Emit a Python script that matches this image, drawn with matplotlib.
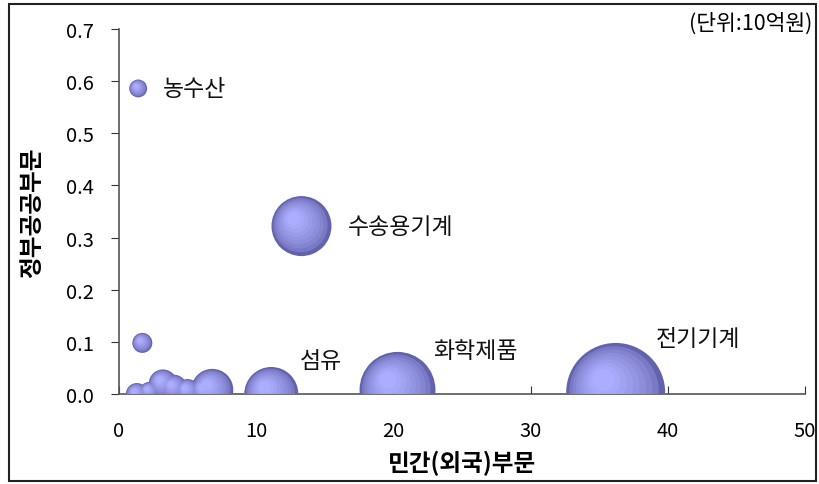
import numpy as np
import matplotlib
matplotlib.use("Agg")
import matplotlib.pyplot as plt
from matplotlib.transforms import ScaledTranslation
from matplotlib.patches import Rectangle

plt.rcParams['font.family'] = ['Noto Sans CJK KR', 'DejaVu Sans']

# Data: private (foreign) sector x, government/public sector y, bubble value
x_private = [1.4, 1.7, 13.3, 11.1, 20.3, 36.2, 1.3, 2.2, 3.2, 4.0, 5.0, 6.3, 6.8]
y_public = [0.586, 0.098, 0.322, 0.0, 0.008, 0.003, 0.0, 0.005, 0.02, 0.012, 0.006, 0.006, 0.008]
bubble_value = [0.8, 1.0, 9.0, 7.3, 14.4, 24.5, 1.2, 0.9, 2.0, 1.7, 1.4, 2.2, 4.4]

labels = ['농수산', '수송용기계', '섬유', '화학제품', '전기기계']
label_x = [3.2, 16.7, 13.2, 22.9, 39.1]
label_y = [0.586, 0.322, 0.064, 0.083, 0.106]

W, H = 819, 485
fig = plt.figure(figsize=(W / 100, H / 100), dpi=100)
ax = fig.add_axes([119 / W, (H - 395) / H, (805 - 119) / W, (395 - 30) / H])
ax.set_xlim(0, 50)
ax.set_ylim(0, 0.7)

dark = np.array([0.39, 0.39, 0.68])
light = np.array([0.68, 0.68, 1.0])
n_layers = 9
for xv, yv, v in zip(x_private, y_public, bubble_value):
    r_px = 10 * np.sqrt(v)
    for k in range(n_layers):
        t = k / (n_layers - 1)
        f = 1 - 0.78 * t
        col = dark + (light - dark) * (t ** 0.6)
        diam_pt = 2 * r_px * f * 0.72
        off = (1 - f) * r_px * 0.32 / 100  # inches
        tr = ax.transData + ScaledTranslation(-off, off, fig.dpi_scale_trans)
        ax.scatter([xv], [yv], s=diam_pt ** 2, color=col, edgecolors='none',
                   transform=tr, zorder=3 + k * 0.01)

for lab, lx, ly in zip(labels, label_x, label_y):
    ax.text(lx, ly, lab, fontsize=16.5, va='center', ha='left', color='#111111')

for s in ['top', 'right']:
    ax.spines[s].set_visible(False)
for s in ['left', 'bottom']:
    ax.spines[s].set_color('#555555')
    ax.spines[s].set_linewidth(1.2)

ax.set_xticks([0, 10, 20, 30, 40, 50])
ax.set_yticks(np.arange(0, 0.71, 0.1))
ax.set_yticklabels(['0.0', '0.1', '0.2', '0.3', '0.4', '0.5', '0.6', '0.7'])
ax.tick_params(axis='y', direction='out', length=6, labelsize=14.5, pad=12, color='#333333')
ax.tick_params(axis='x', direction='in', length=6, labelsize=14.5, pad=19, color='#333333')

ax.set_xlabel('민간(외국)부문', fontsize=17, fontweight='bold', labelpad=6)
ax.set_ylabel('정부공공부문', fontsize=17, fontweight='bold', labelpad=16)

fig.text(812 / W, (H - 24) / H, '(단위:10억원)', fontsize=15.5, ha='right', va='center')

fig.patches.append(Rectangle((9 / W, 3 / H), (816 - 9) / W, (480 - 3) / H,
                             transform=fig.transFigure, fill=False,
                             edgecolor='#222222', linewidth=1.5))

fig.savefig('out.png', dpi=100)
